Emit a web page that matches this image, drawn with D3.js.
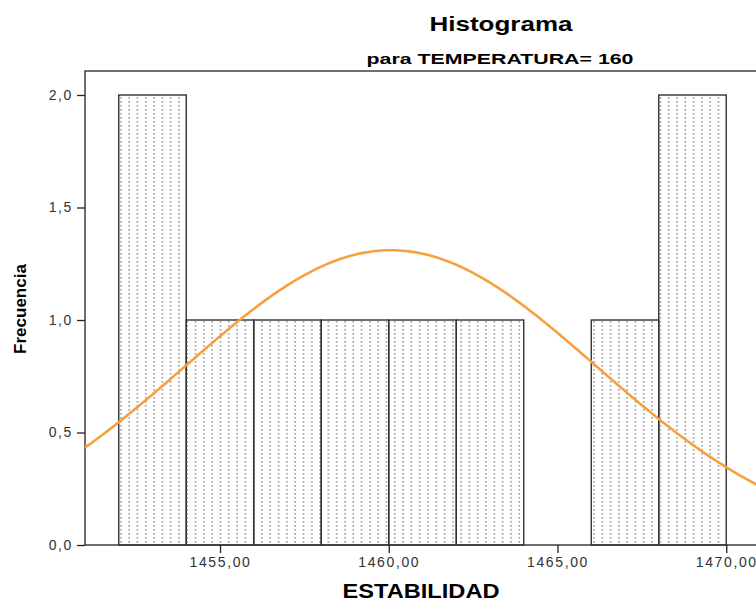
<!DOCTYPE html>
<html>
<head>
<meta charset="utf-8">
<script src="https://cdn.jsdelivr.net/npm/d3@7"></script>
<style>
  body { margin: 0; background: #fff; }
  svg { display: block; font-family: "Liberation Sans", Arial, sans-serif; }
</style>
</head>
<body>
<div id="container"></div>
<script>
// bins of ESTABILIDAD (width 2) and their frequencies
const binStarts = [1452, 1454, 1456, 1458, 1460, 1462, 1464, 1466, 1468];
const binWidth = 2;
const counts = [2, 1, 1, 1, 1, 1, 0, 1, 2];
const yTicks = [0, 0.5, 1.0, 1.5, 2.0];
const xTicks = [1455, 1460, 1465, 1470];
// normal curve parameters (from the data)
const curveMean = 1460.06;
const curveSd = 6.09;
const curveN = 10;

const width = 756, height = 601;
const plotLeft = 85, plotTop = 71, plotBottom = 545;

const svg = d3.select('#container').append('svg')
  .attr('width', width).attr('height', height);

const x = d3.scaleLinear().domain([1451, 1455]).range([plotLeft, 220]);
const y = d3.scaleLinear().domain([0, 2]).range([plotBottom, 95]);

// dotted fill
const defs = svg.append('defs');
const pat = defs.append('pattern')
  .attr('id', 'dots').attr('patternUnits', 'userSpaceOnUse')
  .attr('x', 0).attr('y', 0).attr('width', 8.3).attr('height', 4);
pat.append('rect').attr('x', 4).attr('y', 1).attr('width', 1.4).attr('height', 1.6).attr('fill', '#8a8a8a');

// frame
svg.append('rect')
  .attr('x', plotLeft).attr('y', plotTop)
  .attr('width', 1000).attr('height', plotBottom - plotTop)
  .attr('fill', 'none').attr('stroke', '#222').attr('stroke-width', 1.3);

// bars
const bars = binStarts.map((b, i) => ({ x0: b, x1: b + binWidth, n: counts[i] })).filter(d => d.n > 0);
svg.append('g').selectAll('rect').data(bars).join('rect')
  .attr('x', d => x(d.x0)).attr('y', d => y(d.n))
  .attr('width', d => x(d.x1) - x(d.x0)).attr('height', d => y(0) - y(d.n))
  .attr('fill', 'url(#dots)')
  .attr('stroke', '#333').attr('stroke-width', 1.4);

// normal curve
const pdf = v => curveN * binWidth / (curveSd * Math.sqrt(2 * Math.PI)) * Math.exp(-0.5 * Math.pow((v - curveMean) / curveSd, 2));
const xs = d3.range(1451, 1472.01, 0.1);
svg.append('path')
  .datum(xs)
  .attr('d', d3.line().x(v => x(v)).y(v => y(pdf(v))))
  .attr('fill', 'none').attr('stroke', '#f7a040').attr('stroke-width', 2.6);

// axes
const yAxis = svg.append('g').attr('transform', `translate(${plotLeft},0)`)
  .call(d3.axisLeft(y).tickValues(yTicks).tickSize(8).tickPadding(4)
    .tickFormat(d => d3.format('.1f')(d).replace('.', ',')));
const xAxis = svg.append('g').attr('transform', `translate(0,${plotBottom})`)
  .call(d3.axisBottom(x).tickValues(xTicks).tickSize(8).tickPadding(4)
    .tickFormat(d => d3.format('.2f')(d).replace('.', ',')));
[yAxis, xAxis].forEach(a => {
  a.select('.domain').remove();
  a.selectAll('line').attr('stroke', '#222').attr('stroke-width', 1.3);
  a.selectAll('text').attr('fill', '#333').style('font-size', '14px')
    .style('letter-spacing', '1.6px')
    .style('font-family', '"Liberation Sans", Arial, sans-serif');
});

// titles
svg.append('text').attr('x', 501).attr('y', 31).attr('text-anchor', 'middle')
  .attr('textLength', 143).attr('lengthAdjust', 'spacingAndGlyphs')
  .style('font-size', '21px').style('font-weight', 'bold').text('Histograma');
svg.append('text').attr('x', 500).attr('y', 64).attr('text-anchor', 'middle')
  .attr('textLength', 267).attr('lengthAdjust', 'spacingAndGlyphs')
  .style('font-size', '15px').style('font-weight', 'bold').text('para TEMPERATURA= 160');
svg.append('text').attr('x', 421).attr('y', 598).attr('text-anchor', 'middle')
  .attr('textLength', 157).attr('lengthAdjust', 'spacingAndGlyphs')
  .style('font-size', '20px').style('font-weight', 'bold').text('ESTABILIDAD');
svg.append('text').attr('transform', 'translate(26,309) rotate(-90)').attr('text-anchor', 'middle')
  .style('font-family', '"Liberation Sans Narrow", "Liberation Sans", sans-serif')
  .style('font-size', '17px').style('font-weight', 'bold').text('Frecuencia');
</script>
</body>
</html>
